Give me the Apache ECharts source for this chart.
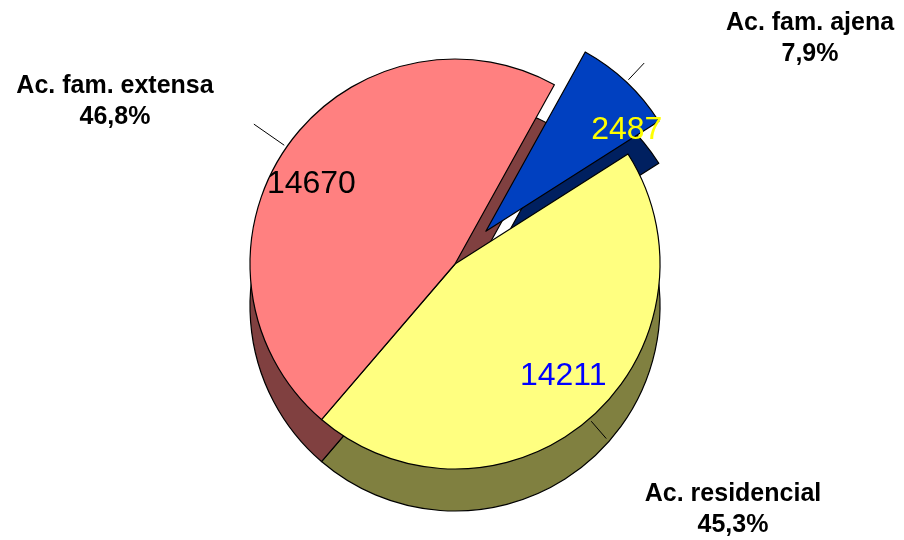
<!DOCTYPE html>
<html><head><meta charset="utf-8">
<script src="https://cdn.jsdelivr.net/npm/echarts@6/dist/echarts.min.js"></script>
<style>html,body{margin:0;padding:0;background:#fff}#c{width:904px;height:540px}</style>
</head><body><div id="c"></div>
<script>
const categories = ['Ac. fam. ajena', 'Ac. residencial', 'Ac. fam. extensa'];
const values = [2487, 14211, 14670];
const percentLabels = ['7,9%', '45,3%', '46,8%'];
const topColors = ['#0040C0', '#FFFF80', '#FF8080'];
const sideColors = ['#002060', '#808040', '#804040'];
const valueColors = ['#FFFF00', '#0000FF', '#000000'];

const FONT = '"Liberation Sans", Arial, Helvetica, sans-serif';
const chart = echarts.init(document.getElementById('c'));
const cx = 455, cy = 264, R = 205, depth = 42, start = 61, explode = 45;
const outerLabelPos = [[810, 39], [733, 510], [115, 102]];
const innerLabelShift = [[36, 10], [8, -3], [-18, 8]];
const leaderLen = [26, 26, 40];

function mk(colors, extra, sel) {
  return categories.map((n, i) => Object.assign({
    name: n, value: values[i], selected: sel !== false && i === 0,
    itemStyle: { color: colors[i] }
  }, extra ? extra(i) : {}));
}

chart.setOption({
  animation: false,
  series: [
    {
      type: 'pie', silent: true, center: [cx, cy + depth], radius: [0, R],
      startAngle: start, clockwise: true, selectedMode: 'single', selectedOffset: explode,
      label: { show: false }, labelLine: { show: false },
      itemStyle: { borderColor: '#000', borderWidth: 1.2 },
      data: mk(sideColors), z: 1
    },
    {
      type: 'pie', silent: true, center: [cx, cy], radius: [0, R],
      startAngle: start, clockwise: true, selectedMode: 'single', selectedOffset: explode,
      itemStyle: { borderColor: '#000', borderWidth: 1.2 },
      label: { show: false }, labelLine: { show: false },
      data: mk(topColors), z: 2
    },
    {
      type: 'pie', silent: true, center: [cx, cy], radius: [0, R],
      startAngle: start, clockwise: true, selectedMode: false,
      avoidLabelOverlap: false,
      itemStyle: { color: 'transparent', borderWidth: 0 },
      label: {
        show: true, position: 'outside', color: '#000', fontFamily: FONT,
        fontWeight: 'bold', fontSize: 25, lineHeight: 31, align: 'center',
        formatter: p => p.name + '\n' + percentLabels[p.dataIndex]
      },
      labelLine: { show: true, length: 22, length2: 0, lineStyle: { color: '#000', width: 1 } },
      labelLayout: function (p) {
        const i = p.dataIndex;
        const pos = outerLabelPos[i];
        const res = { x: pos[0], y: pos[1], align: 'center', verticalAlign: 'middle' };
        const pts = p.labelLinePoints;
        if (pts && pts.length >= 2) {
          let a = pts[0].slice();
          const ux = a[0] - cx, uy = a[1] - cy, ul = Math.sqrt(ux * ux + uy * uy) || 1;
          if (i === 0) { a[0] += ux / ul * explode; a[1] += uy / ul * explode; }
          const b = pts[1];
          const dx = b[0] - pts[0][0], dy = b[1] - pts[0][1];
          const l = Math.sqrt(dx * dx + dy * dy) || 1;
          res.labelLinePoints = [[a[0] + dx / l * 3, a[1] + dy / l * 3], [a[0] + dx / l * leaderLen[i], a[1] + dy / l * leaderLen[i]]];
        }
        return res;
      },
      data: mk(topColors, i => ({ itemStyle: { color: 'transparent' } }), false), z: 3
    },
    {
      type: 'pie', silent: true, center: [cx, cy], radius: [95, R],
      startAngle: start, clockwise: true, selectedMode: 'single', selectedOffset: explode,
      avoidLabelOverlap: false,
      itemStyle: { color: 'transparent', borderWidth: 0 },
      label: {
        show: true, position: 'inside', fontFamily: FONT, fontSize: 32,
        formatter: p => String(p.value)
      },
      labelLayout: function (p) {
        const s = innerLabelShift[p.dataIndex];
        return { dx: s[0], dy: s[1] };
      },
      labelLine: { show: false },
      data: mk(topColors, i => ({ label: { color: valueColors[i] }, itemStyle: { color: 'transparent' } })),
      z: 4
    }
  ]
});
</script></body></html>
